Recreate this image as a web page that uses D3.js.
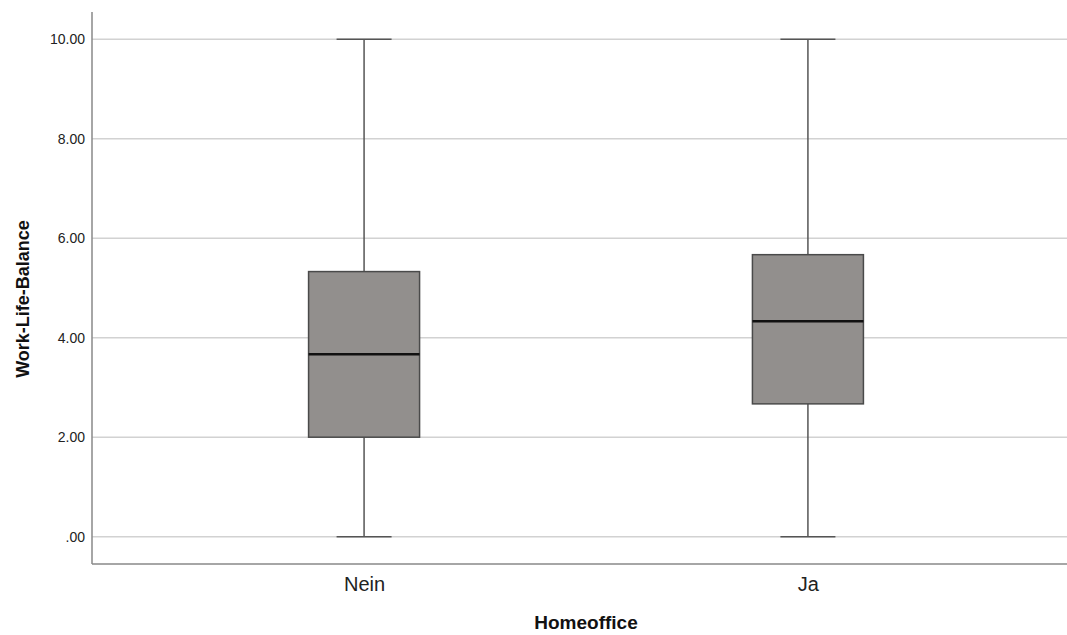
<!DOCTYPE html>
<html>
<head>
<meta charset="utf-8">
<script src="https://cdn.jsdelivr.net/npm/d3@7"></script>
<style>
  body { margin: 0; background: #fff; }
  svg { display: block; font-family: "Liberation Sans", Arial, sans-serif; }
</style>
</head>
<body>
<div id="chart"></div>
<script>
// Boxplot data
const categories = ['Nein', 'Ja'];
const whiskerLow = [0, 0];
const q1Values = [2.0, 2.67];
const medianValues = [3.67, 4.33];
const q3Values = [5.33, 5.67];
const whiskerHigh = [10, 10];
const yTicks = [0, 2, 4, 6, 8, 10];

var svgWidth = 1067;
var svgHeight = 635;

var margin = { top: 12, left: 92, bottom: 71 };

var plotBottom = svgHeight - margin.bottom;

var svg = d3.select('#chart')
    .append('svg')
    .attr('width', svgWidth)
    .attr('height', svgHeight);

var xScale = d3.scalePoint()
    .domain(categories)
    .range([margin.left, 1080])
    .padding(0.613);

var yScale = d3.scaleLinear()
    .domain([-0.55, 10.55])
    .range([plotBottom, margin.top]);

var boxWidth = 111;
var capWidth = 55;

// gridlines
svg.append('g')
    .selectAll('line')
    .data(yTicks)
    .enter()
    .append('line')
    .attr('x1', margin.left)
    .attr('x2', svgWidth)
    .attr('y1', d => yScale(d))
    .attr('y2', d => yScale(d))
    .attr('stroke', '#d2d2d2')
    .attr('stroke-width', 1.5);

// y axis
var yAxis = d3.axisLeft(yScale)
    .tickValues(yTicks)
    .tickSize(0)
    .tickPadding(7)
    .tickFormat(d => d === 0 ? '.00' : d3.format('.2f')(d));

var yG = svg.append('g')
    .attr('transform', `translate(${margin.left},0)`)
    .call(yAxis);
yG.select('.domain').remove();
yG.selectAll('text')
    .attr('font-size', 14)
    .attr('font-family', '"Liberation Sans", Arial, sans-serif')
    .attr('fill', '#222');

// x axis
var xAxis = d3.axisBottom(xScale)
    .tickSize(0)
    .tickPadding(13);

var xG = svg.append('g')
    .attr('transform', `translate(0,${plotBottom})`)
    .call(xAxis);
xG.select('.domain').remove();
xG.selectAll('text')
    .attr('font-size', 20)
    .attr('font-family', '"Liberation Sans", Arial, sans-serif')
    .attr('fill', '#222');

// axis lines
svg.append('line')
    .attr('x1', margin.left).attr('x2', margin.left)
    .attr('y1', margin.top).attr('y2', plotBottom)
    .attr('stroke', '#888').attr('stroke-width', 1.5);
svg.append('line')
    .attr('x1', margin.left).attr('x2', svgWidth)
    .attr('y1', plotBottom).attr('y2', plotBottom)
    .attr('stroke', '#888').attr('stroke-width', 1.5);

var rows = categories.map((c, i) => ({
    cat: c,
    lo: whiskerLow[i],
    q1: q1Values[i],
    med: medianValues[i],
    q3: q3Values[i],
    hi: whiskerHigh[i]
}));

var boxes = svg.append('g')
    .selectAll('g')
    .data(rows)
    .enter()
    .append('g')
    .attr('transform', d => `translate(${xScale(d.cat)},0)`);

// whiskers
boxes.append('line')
    .attr('x1', 0).attr('x2', 0)
    .attr('y1', d => yScale(d.hi))
    .attr('y2', d => yScale(d.q3))
    .attr('stroke', '#555').attr('stroke-width', 1.5);
boxes.append('line')
    .attr('x1', 0).attr('x2', 0)
    .attr('y1', d => yScale(d.q1))
    .attr('y2', d => yScale(d.lo))
    .attr('stroke', '#555').attr('stroke-width', 1.5);

// caps
boxes.selectAll('.cap')
    .data(d => [d.lo, d.hi])
    .enter()
    .append('line')
    .attr('class', 'cap')
    .attr('x1', -capWidth / 2).attr('x2', capWidth / 2)
    .attr('y1', d => yScale(d))
    .attr('y2', d => yScale(d))
    .attr('stroke', '#555').attr('stroke-width', 1.5);

// box
boxes.append('rect')
    .attr('x', -boxWidth / 2)
    .attr('width', boxWidth)
    .attr('y', d => yScale(d.q3))
    .attr('height', d => yScale(d.q1) - yScale(d.q3))
    .attr('fill', '#928f8d')
    .attr('stroke', '#4a4a4a')
    .attr('stroke-width', 1.5);

// median
boxes.append('line')
    .attr('x1', -boxWidth / 2).attr('x2', boxWidth / 2)
    .attr('y1', d => yScale(d.med))
    .attr('y2', d => yScale(d.med))
    .attr('stroke', '#111').attr('stroke-width', 2.5);

// axis titles
svg.append('text')
    .attr('x', 586)
    .attr('y', 629)
    .attr('text-anchor', 'middle')
    .attr('font-size', 19)
    .attr('font-weight', 'bold')
    .attr('fill', '#111')
    .text('Homeoffice');

svg.append('text')
    .attr('transform', 'translate(29,299) rotate(-90)')
    .attr('text-anchor', 'middle')
    .attr('font-size', 18)
    .attr('font-weight', 'bold')
    .attr('fill', '#111')
    .text('Work-Life-Balance');
</script>
</body>
</html>
